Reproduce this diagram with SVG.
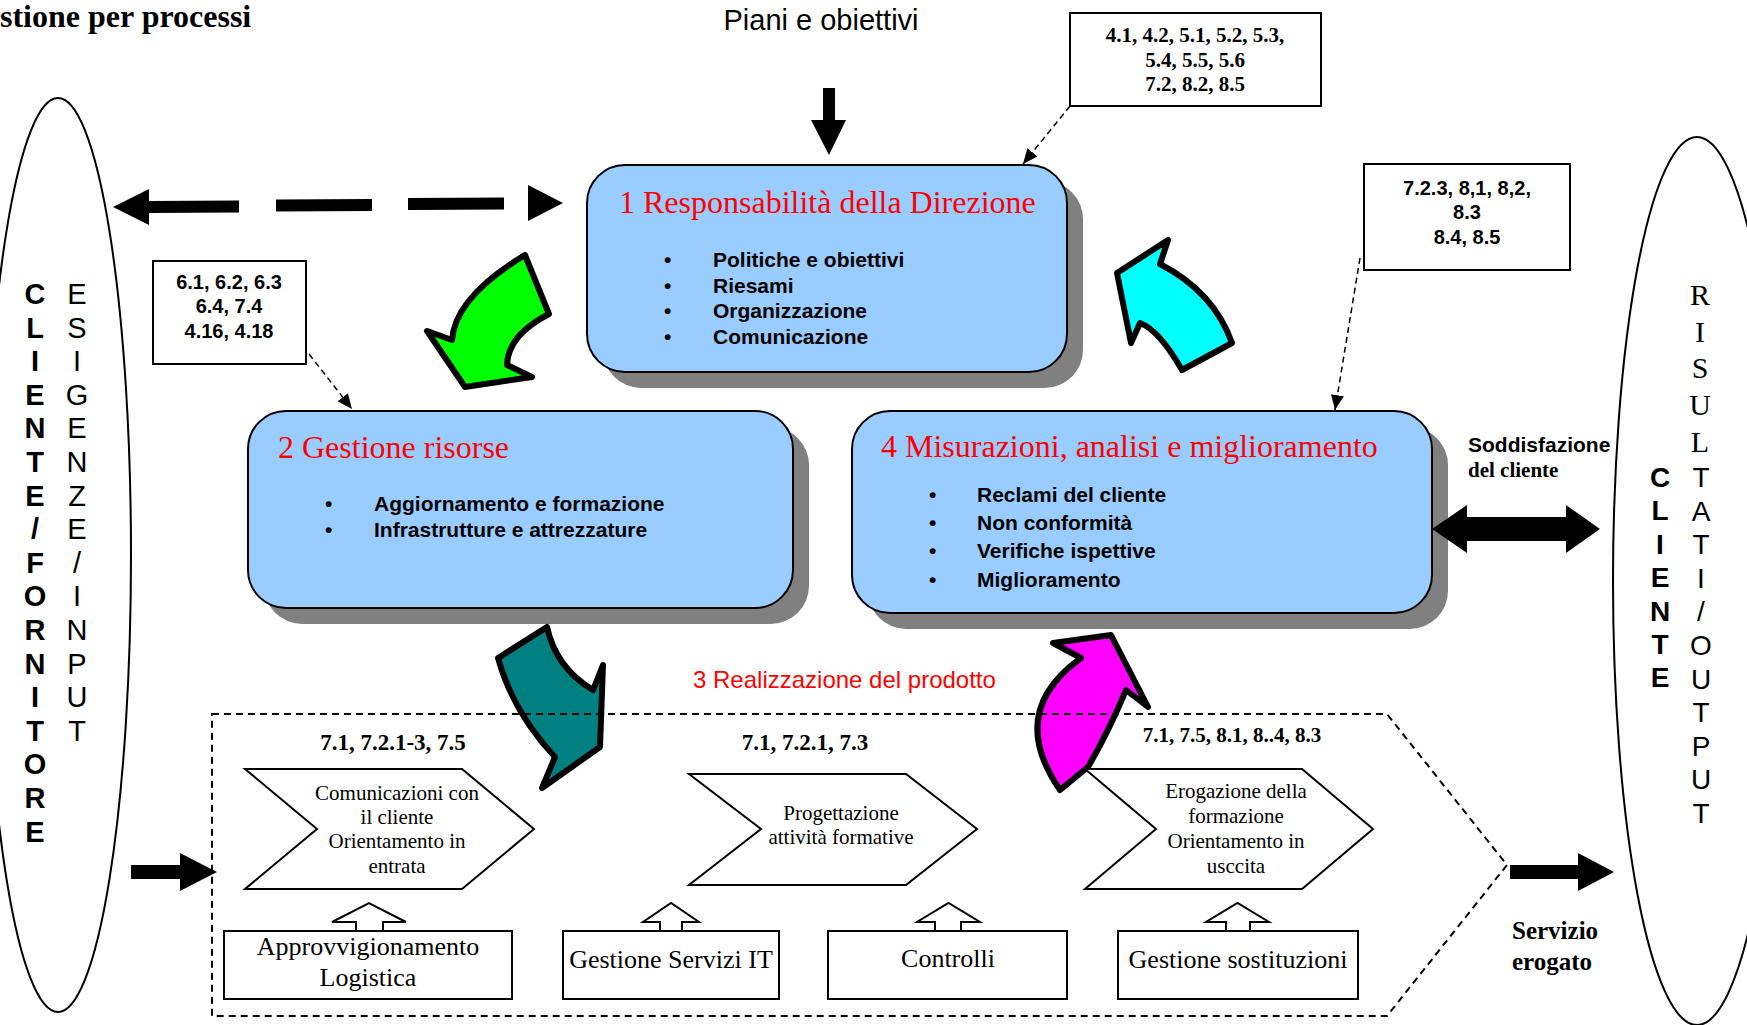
<svg xmlns="http://www.w3.org/2000/svg" width="1747" height="1025" viewBox="0 0 1747 1025">
<defs>
<marker id="ah" markerUnits="userSpaceOnUse" markerWidth="15" markerHeight="13" viewBox="0 0 15 13" refX="15" refY="6.5" orient="auto"><path d="M0,0 L15,6.5 L0,13 z" fill="#000"/></marker>
</defs>
<style>
.sans{font-family:"Liberation Sans",Arial,sans-serif}
.serif{font-family:"Liberation Serif","Times New Roman",serif}
.box{fill:#99CCFF;stroke:#000;stroke-width:2}
.shadow{fill:#808080}
.title{font-family:"Liberation Serif","Times New Roman",serif;font-size:32px;fill:#FF0000}
.bul{font-family:"Liberation Sans",Arial,sans-serif;font-weight:bold;font-size:21px}
.ref{fill:#fff;stroke:#000;stroke-width:2}
.refT{font-family:"Liberation Sans",Arial,sans-serif;font-weight:bold;font-size:20px;text-anchor:middle}
.num{font-family:"Liberation Serif","Times New Roman",serif;font-weight:bold;font-size:21px;text-anchor:middle}
.shape{fill:#fff;stroke:#000;stroke-width:2}
.chevT{font-family:"Liberation Serif","Times New Roman",serif;font-size:21px;text-anchor:middle}
.botT{font-family:"Liberation Serif","Times New Roman",serif;font-size:26px;text-anchor:middle}
.thin{fill:none;stroke:#000;stroke-width:1.5;stroke-dasharray:6 4;marker-end:url(#ah)}
.curved{stroke:#000;stroke-width:6;stroke-linejoin:round}
.blk{fill:#000}
.ell{fill:none;stroke:#000;stroke-width:2}
</style>
<rect width="1747" height="1025" fill="#fff"/>

<text id="title" class="serif" x="0" y="27" font-size="32" font-weight="bold">stione per processi</text>

<g id="cliente-fornitore">
<ellipse class="ell" cx="58" cy="555" rx="73" ry="457"/>
<text class="sans" font-weight="bold" font-size="29" text-anchor="middle"><tspan x="35" y="304">C</tspan><tspan x="35" dy="33.6">L</tspan><tspan x="35" dy="33.6">I</tspan><tspan x="35" dy="33.6">E</tspan><tspan x="35" dy="33.6">N</tspan><tspan x="35" dy="33.6">T</tspan><tspan x="35" dy="33.6">E</tspan><tspan x="35" dy="33.6">/</tspan><tspan x="35" dy="33.6">F</tspan><tspan x="35" dy="33.6">O</tspan><tspan x="35" dy="33.6">R</tspan><tspan x="35" dy="33.6">N</tspan><tspan x="35" dy="33.6">I</tspan><tspan x="35" dy="33.6">T</tspan><tspan x="35" dy="33.6">O</tspan><tspan x="35" dy="33.6">R</tspan><tspan x="35" dy="33.6">E</tspan></text>
<text class="sans" font-size="29" text-anchor="middle"><tspan x="77" y="304">E</tspan><tspan x="77" dy="33.6">S</tspan><tspan x="77" dy="33.6">I</tspan><tspan x="77" dy="33.6">G</tspan><tspan x="77" dy="33.6">E</tspan><tspan x="77" dy="33.6">N</tspan><tspan x="77" dy="33.6">Z</tspan><tspan x="77" dy="33.6">E</tspan><tspan x="77" dy="33.6">/</tspan><tspan x="77" dy="33.6">I</tspan><tspan x="77" dy="33.6">N</tspan><tspan x="77" dy="33.6">P</tspan><tspan x="77" dy="33.6">U</tspan><tspan x="77" dy="33.6">T</tspan></text>
</g>

<g id="cliente-output">
<ellipse class="ell" cx="1697" cy="581" rx="84" ry="444"/>
<text class="sans" font-weight="bold" font-size="28" text-anchor="middle"><tspan x="1660" y="487">C</tspan><tspan x="1660" dy="33.4">L</tspan><tspan x="1660" dy="33.4">I</tspan><tspan x="1660" dy="33.4">E</tspan><tspan x="1660" dy="33.4">N</tspan><tspan x="1660" dy="33.4">T</tspan><tspan x="1660" dy="33.4">E</tspan></text>
<text class="serif" font-size="30" text-anchor="middle"><tspan x="1700" y="305">R</tspan><tspan x="1700" dy="36.7">I</tspan><tspan x="1700" dy="36.7">S</tspan><tspan x="1700" dy="36.7">U</tspan><tspan x="1700" dy="36.7">L</tspan></text>
<text class="sans" font-size="28" text-anchor="middle"><tspan x="1701" y="487">T</tspan><tspan x="1701" dy="33.6">A</tspan><tspan x="1701" dy="33.6">T</tspan><tspan x="1701" dy="33.6">I</tspan><tspan x="1701" dy="33.6">/</tspan><tspan x="1701" dy="33.6">O</tspan><tspan x="1701" dy="33.6">U</tspan><tspan x="1701" dy="33.6">T</tspan><tspan x="1701" dy="33.6">P</tspan><tspan x="1701" dy="33.6">U</tspan><tspan x="1701" dy="33.6">T</tspan></text>
</g>

<g id="piani">
<text class="sans" x="821" y="30" font-size="29" text-anchor="middle">Piani e obiettivi</text>
</g>

<g id="ref-direzione">
<rect class="ref" x="1070" y="13" width="251" height="93"/>
<text class="num" x="1195" y="42">4.1, 4.2, 5.1, 5.2, 5.3,</text>
<text class="num" x="1195" y="67">5.4, 5.5, 5.6</text>
<text class="num" x="1195" y="91">7.2, 8.2, 8.5</text>
</g>

<g id="ref-risorse">
<rect class="ref" x="153" y="261" width="153" height="103"/>
<text class="refT" x="229" y="289">6.1, 6.2, 6.3</text>
<text class="refT" x="229" y="313">6.4, 7.4</text>
<text class="refT" x="229" y="338">4.16, 4.18</text>
</g>

<g id="ref-misurazioni">
<rect class="ref" x="1364" y="164" width="206" height="106"/>
<text class="refT" x="1467" y="195">7.2.3, 8,1, 8,2,</text>
<text class="refT" x="1467" y="219">8.3</text>
<text class="refT" x="1467" y="244">8.4, 8.5</text>
</g>

<g id="node-direzione">
<rect class="shadow" x="603" y="181" width="480" height="207" rx="38"/>
<rect class="box" x="587" y="165" width="480" height="207" rx="38"/>
<text class="title" x="619" y="213">1 Responsabilità della Direzione</text>
<g class="bul">
<text x="664" y="267">•</text><text x="713" y="267">Politiche e obiettivi</text>
<text x="664" y="293">•</text><text x="713" y="293">Riesami</text>
<text x="664" y="318">•</text><text x="713" y="318">Organizzazione</text>
<text x="664" y="344">•</text><text x="713" y="344">Comunicazione</text>
</g>
</g>

<g id="node-risorse">
<rect class="shadow" x="264" y="427" width="545" height="197" rx="38"/>
<rect class="box" x="248" y="411" width="545" height="197" rx="38"/>
<text class="title" x="278" y="458">2 Gestione risorse</text>
<g class="bul">
<text x="325" y="511">•</text><text x="374" y="511">Aggiornamento e formazione</text>
<text x="325" y="537">•</text><text x="374" y="537">Infrastrutture e attrezzature</text>
</g>
</g>

<g id="node-misurazioni">
<rect class="shadow" x="868" y="427" width="580" height="202" rx="38"/>
<rect class="box" x="852" y="411" width="580" height="202" rx="38"/>
<text class="title" x="881" y="457">4 Misurazioni, analisi e miglioramento</text>
<g class="bul">
<text x="929" y="502">•</text><text x="977" y="502">Reclami del cliente</text>
<text x="929" y="530">•</text><text x="977" y="530">Non conformità</text>
<text x="929" y="558">•</text><text x="977" y="558">Verifiche ispettive</text>
<text x="929" y="587">•</text><text x="977" y="587">Miglioramento</text>
</g>
</g>

<g id="soddisfazione">
<text class="sans" x="1468" y="452" font-size="21" font-weight="bold">Soddisfazione</text>
<text class="serif" x="1468" y="477" font-size="21" font-weight="bold">del cliente</text>
</g>

<g id="servizio">
<text class="serif" x="1512" y="939" font-size="25" font-weight="bold">Servizio</text>
<text class="serif" x="1512" y="970" font-size="25" font-weight="bold">erogato</text>
</g>

<g id="connectors">
<path class="blk" d="M113,207 L149,189 L149,201 L239,200.5 L239,212.5 L149,213 L149,225 Z"/>
<path class="blk" d="M276,199.5 L372,199 L372,211 L276,211.5 Z"/>
<path class="blk" d="M408,198 L504,197.5 L504,209.5 L408,210 Z"/>
<path class="blk" d="M528,185 L563,203 L528,221 Z"/>
<path class="blk" d="M823,88 L835,88 L835,120 L846,120 L829,155 L811,120 L823,120 Z"/>
<path class="thin" d="M1070,106 L1023,164"/>
<path class="thin" d="M309,354 L352,409"/>
<path class="thin" d="M1360,258 L1335,410"/>
<path class="blk" d="M1432,529 L1467,505 L1467,517 L1566,517 L1566,505 L1600,529 L1566,553 L1566,541 L1467,541 L1467,553 Z"/>
<path class="blk" d="M131,865 L180,865 L180,853 L217,872 L180,891 L180,879 L131,879 Z"/>
<path class="blk" d="M1510,865 L1578,865 L1578,853 L1614,872 L1578,891 L1578,879 L1510,879 Z"/>
<path class="curved" fill="#00FF00" d="M525,255 L549,314 Q508,335 507,365 L532,377 L465,387 L427,331 L452,340 Q455,297 525,255 Z"/>
<path class="curved" fill="#00FFFF" d="M1117,273 L1168,240 L1160,264 Q1214,292 1232,343 L1182,370 Q1159,330 1140,323 L1131,343 Z"/>
<path class="curved" fill="#008080" d="M498,658 L547,627 Q556,668 593,690 L603,665 L600,747 L542,788 L555,757 Q513,712 498,658 Z"/>
<path class="curved" fill="#FF00FF" d="M1053,643 L1111,635 L1148,707 L1126,690 Q1108,733 1088,767 L1060,790 Q1006,712 1081,658 Z"/>
</g>

<g id="realizzazione">
<polygon points="212,714 1387,714 1507,865 1387,1016 212,1016" fill="none" stroke="#000" stroke-width="2" stroke-dasharray="7 5"/>
<text class="sans" x="693" y="688" font-size="24" fill="#FF0000">3 Realizzazione del prodotto</text>
</g>

<g id="chevron-comunicazioni">
<text class="num" x="393" y="750" style="font-size:23px">7.1, 7.2.1-3, 7.5</text>
<polygon class="shape" points="245,769 462,769 534,829 462,889 245,889 317,829"/>
<text class="chevT" x="397" y="800">Comunicazioni con</text>
<text class="chevT" x="397" y="824">il cliente</text>
<text class="chevT" x="397" y="848">Orientamento in</text>
<text class="chevT" x="397" y="873">entrata</text>
</g>

<g id="chevron-progettazione">
<text class="num" x="805" y="750" style="font-size:23px">7.1, 7.2.1, 7.3</text>
<polygon class="shape" points="689,774 906,774 977,829 906,885 689,885 761,829"/>
<text class="chevT" x="841" y="820">Progettazione</text>
<text class="chevT" x="841" y="844">attività formative</text>
</g>

<g id="chevron-erogazione">
<text class="num" x="1232" y="742">7.1, 7.5, 8.1, 8..4, 8.3</text>
<polygon class="shape" points="1085,769 1302,769 1373,829 1302,889 1085,889 1156,829"/>
<text class="chevT" x="1236" y="798">Erogazione della</text>
<text class="chevT" x="1236" y="823">formazione</text>
<text class="chevT" x="1236" y="848">Orientamento in</text>
<text class="chevT" x="1236" y="873">usccita</text>
</g>

<g id="box-approvvigionamento">
<path class="shape" d="M356,931 L356,922 L332,922 L369,903 L406,922 L383,922 L383,931"/>
<rect class="shape" x="224" y="931" width="288" height="68"/>
<text class="botT" x="368" y="955">Approvvigionamento</text>
<text class="botT" x="368" y="986">Logistica</text>
</g>

<g id="box-servizi-it">
<path class="shape" d="M660,931 L660,922 L643,922 L671,903 L699,922 L682,922 L682,931"/>
<rect class="shape" x="563" y="931" width="216" height="68"/>
<text class="botT" x="671" y="968">Gestione Servizi IT</text>
</g>

<g id="box-controlli">
<path class="shape" d="M935,931 L935,922 L917,922 L948.5,903 L980,922 L961,922 L961,931"/>
<rect class="shape" x="828" y="931" width="239" height="68"/>
<text class="botT" x="948" y="967">Controlli</text>
</g>

<g id="box-sostituzioni">
<path class="shape" d="M1226,931 L1226,922 L1206,922 L1237.5,903 L1269,922 L1250,922 L1250,931"/>
<rect class="shape" x="1118" y="931" width="240" height="68"/>
<text class="botT" x="1238" y="968">Gestione sostituzioni</text>
</g>
</svg>
